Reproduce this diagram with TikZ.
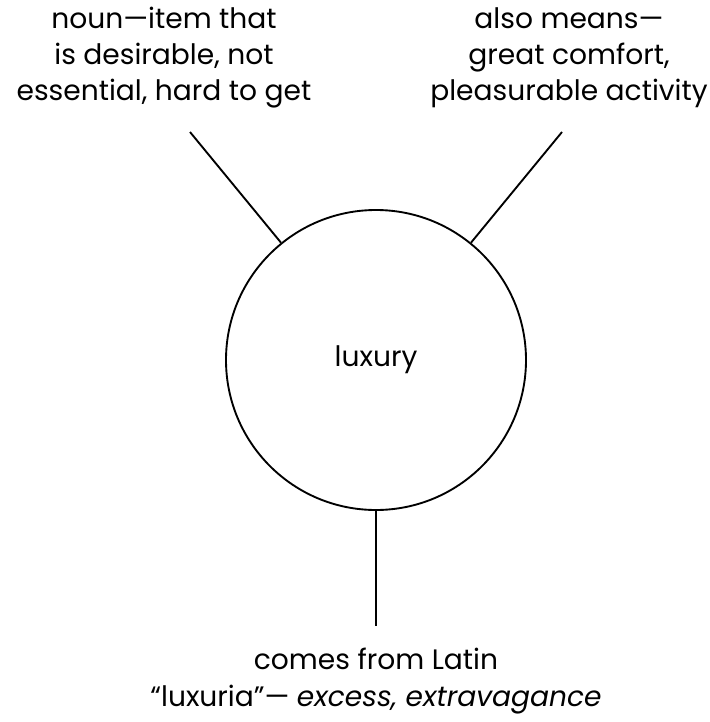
\documentclass[tikz,border=0pt]{standalone}
\usepackage{fontspec}
\setmainfont{Poppins}
\usetikzlibrary{positioning}

\tikzset{
  note/.style={align=center,font=\fontsize{24}{30.7}\selectfont,inner sep=0pt},
  link/.style={line width=1.6pt}
}

\begin{document}
\begin{tikzpicture}[x=.03cm,y=-.03cm]
    \useasboundingbox (0,0) rectangle (710,722);
    % centre word
    \node[circle,draw,line width=1.6pt,minimum size=300*.03cm,font=\fontsize{24}{28}\selectfont] (lux) at (376,360) {luxury};
    % notes round it
    \node[note] (noun) at (164,58) {noun---item that\\is desirable, not\\essential, hard to get};
    \node[note] (also) at (569,58) {also means---\\great comfort,\\pleasurable activity};
    \node[note,font=\fontsize{24}{32}\selectfont] (latin) at (376,681) {comes from Latin\\``luxuria''--- \textit{excess, extravagance}};
    \coordinate (nounend) at (190,132);
    \coordinate (alsoend) at (562,132);
    \coordinate (latinend) at (376,626);
    \draw[link] (lux.129) -- (nounend);
    \draw[link] (lux.51) -- (alsoend);
    \draw[link] (lux.south) -- (latinend);
  \end{tikzpicture}
\end{document}
